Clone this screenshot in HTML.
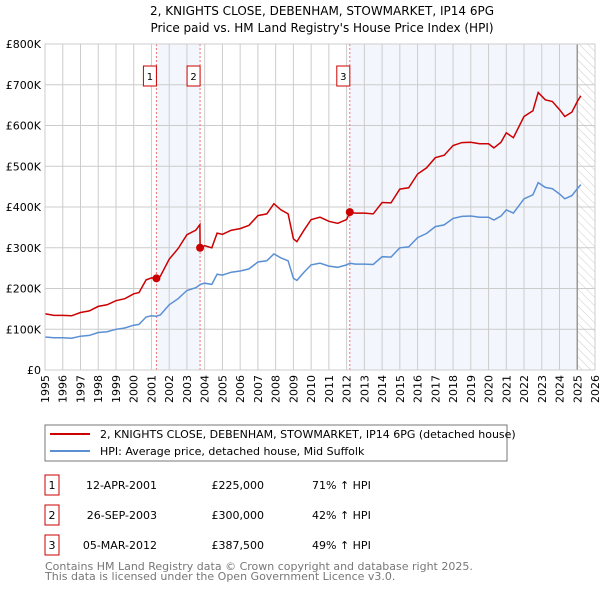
<!DOCTYPE html>
<html><head><meta charset="utf-8"><style>
body{margin:0;background:#fff;}
svg text{font-family:"DejaVu Sans","Liberation Sans",sans-serif;}
</style></head><body>
<svg id="c" width="600" height="590" viewBox="0 0 600 590" xmlns="http://www.w3.org/2000/svg">
<defs><pattern id="hatch" width="6" height="6" patternUnits="userSpaceOnUse" patternTransform="rotate(-45)"><line x1="0" y1="0" x2="0" y2="6" stroke="#ccc" stroke-width="1"/></pattern></defs>
<text x="322" y="15" text-anchor="middle" font-size="12">2, KNIGHTS CLOSE, DEBENHAM, STOWMARKET, IP14 6PG</text>
<text x="322" y="32" text-anchor="middle" font-size="12">Price paid vs. HM Land Registry's House Price Index (HPI)</text>
<g id="plot"></g>
<rect x="45" y="425" width="462" height="36" fill="#fff" stroke="#777"/>
<line x1="50" y1="434" x2="90" y2="434" stroke="#cc0000" stroke-width="2"/>
<text x="100" y="438" font-size="11">2, KNIGHTS CLOSE, DEBENHAM, STOWMARKET, IP14 6PG (detached house)</text>
<line x1="50" y1="451" x2="90" y2="451" stroke="#5b8fd4" stroke-width="2"/>
<text x="100" y="455" font-size="11">HPI: Average price, detached house, Mid Suffolk</text>
<g id="table" font-size="11"></g>
<text x="45" y="570" font-size="11" fill="#777">Contains HM Land Registry data © Crown copyright and database right 2025.</text>
<text x="45" y="580" font-size="11" fill="#777">This data is licensed under the Open Government Licence v3.0.</text>
</svg>
<script>
const dates=[1995.0,1995.5,1996.0,1996.5,1997.0,1997.5,1998.0,1998.5,1999.0,1999.5,2000.0,2000.3,2000.7,2001.0,2001.28,2001.5,2002.0,2002.5,2003.0,2003.5,2003.73,2003.74,2004.0,2004.4,2004.7,2005.0,2005.5,2006.0,2006.5,2007.0,2007.5,2007.9,2008.3,2008.7,2009.0,2009.2,2009.6,2010.0,2010.5,2011.0,2011.5,2012.0,2012.18,2012.5,2013.0,2013.5,2014.0,2014.5,2015.0,2015.5,2016.0,2016.5,2017.0,2017.5,2018.0,2018.5,2019.0,2019.5,2020.0,2020.3,2020.7,2021.0,2021.4,2022.0,2022.5,2022.8,2023.2,2023.6,2024.0,2024.3,2024.7,2025.0,2025.2];
const hpiValues=[81,79,79,78,83,85,92,94,100,103,110,112,130,133,132,135,160,175,195,202,209,210,213,210,235,233,240,243,248,265,268,285,275,268,225,220,240,258,262,255,252,258,262,260,260,259,278,277,300,302,325,335,352,356,372,377,378,375,375,368,378,393,385,420,430,460,448,445,432,420,428,445,455];
const priceValues=[138,134,134,133,141,145,156,160,170,175,187,190,221,226,225,230,272,298,332,343,357,300,305,300,336,333,343,347,355,379,383,408,393,383,322,315,343,369,375,365,360,369,387,385,385,383,411,410,444,447,481,496,521,527,551,558,559,555,555,545,559,582,570,622,636,681,663,659,639,622,633,659,673];
const yTicks=[0,100,200,300,400,500,600,700,800];
const yTickLabels=["£0","£100K","£200K","£300K","£400K","£500K","£600K","£700K","£800K"];
const xTicks=[1995,1996,1997,1998,1999,2000,2001,2002,2003,2004,2005,2006,2007,2008,2009,2010,2011,2012,2013,2014,2015,2016,2017,2018,2019,2020,2021,2022,2023,2024,2025,2026];
const saleDates=[2001.28,2003.74,2012.18];
const salePrices=[225,300,387.5];
const saleLabels=["1","2","3"];
const saleDateText=["12-APR-2001","26-SEP-2003","05-MAR-2012"];
const salePriceText=["£225,000","£300,000","£387,500"];
const saleHpiText=["71% ↑ HPI","42% ↑ HPI","49% ↑ HPI"];
const dataEnd=2025.0;

const X0=45,X1=595,Y0=370,Y1=44;
const x=v=>X0+(v-1995)/(2026-1995)*(X1-X0);
const y=v=>Y0-v/800*(Y0-Y1);
const NS="http://www.w3.org/2000/svg";
const plot=document.getElementById('plot');
function mk(tag,attrs,parent){const e=document.createElementNS(NS,tag);for(const k in attrs)e.setAttribute(k,attrs[k]);(parent||plot).appendChild(e);return e;}

// shading
let s=mk('rect',{x:x(saleDates[0]),y:Y1,width:x(saleDates[1])-x(saleDates[0]),height:Y0-Y1,fill:'#eef3fc',opacity:0.7});


s=mk('rect',{x:x(saleDates[2]),y:Y1,width:x(dataEnd)-x(saleDates[2]),height:Y0-Y1,fill:'#eef3fc',opacity:0.7});


s=mk('rect',{x:x(dataEnd),y:Y1,width:X1-x(dataEnd),height:Y0-Y1,fill:'url(#hatch)'});



// grid
yTicks.forEach((t,i)=>{
 const l=mk('line',{x1:X0,x2:X1,y1:y(t),y2:y(t),stroke:'#ccc'});
 
 
 const tx=mk('text',{x:X0-4,y:y(t)+4,'text-anchor':'end','font-size':'11'});
 tx.textContent=yTickLabels[i];
 
 
});
xTicks.forEach(t=>{
 const l=mk('line',{x1:x(t),x2:x(t),y1:Y1,y2:Y0,stroke:'#ccc'});
 
 
 const tx=mk('text',{x:0,y:0,'text-anchor':'end','font-size':'11',transform:`translate(${x(t)+4},${Y0+5}) rotate(-90)`});
 tx.textContent=t;
 
 
});
let el=mk('line',{x1:x(dataEnd),x2:x(dataEnd),y1:Y1,y2:Y0,stroke:'#999','stroke-width':1.5});



// sale lines
saleDates.forEach((d,i)=>{
 const l=mk('line',{x1:x(d),x2:x(d),y1:Y1,y2:Y0,stroke:'#f07070','stroke-dasharray':'2,2'});
 
 
});

// series
const pts=vals=>dates.map((d,i)=>x(d).toFixed(1)+','+y(vals[i]).toFixed(1)).join(' ');
el=mk('polyline',{points:pts(hpiValues),fill:'none',stroke:'#5b8fd4','stroke-width':1.5});


el=mk('polyline',{points:pts(priceValues),fill:'none',stroke:'#cc0000','stroke-width':1.5});



saleDates.forEach((d,i)=>{
 const c=mk('circle',{cx:x(d),cy:y(salePrices[i]),r:4,fill:'#cc0000'});
 
 
 const bx=x(d)-(i==2?0:0);
 const r=mk('rect',{x:x(d)-13,y:66,width:13,height:20,fill:'#fff',stroke:'#cc0000'});
 
 
 const t=mk('text',{x:x(d)-6.5,y:80,'text-anchor':'middle','font-size':'10'});
 t.textContent=saleLabels[i];
 
 
});
let fr=mk('rect',{x:X0,y:Y1,width:X1-X0,height:Y0-Y1,fill:'none',stroke:'#ccc'});



// table
const tb=document.getElementById('table');
saleLabels.forEach((lab,i)=>{
 const ty=475+i*30;
 const r=mk('rect',{x:45,y:ty,width:14,height:20,fill:'#fff',stroke:'#cc0000'},tb);
 
 
 const cells=[[52,lab,'middle'],[157,saleDateText[i],'end'],[264,salePriceText[i],'end'],[312,saleHpiText[i],'start']];
 cells.forEach((c,j)=>{
  const t=mk('text',{x:c[0],y:ty+14,'text-anchor':c[2]},tb);
  t.textContent=c[1];
  
  
 });
});
</script>
</body></html>
